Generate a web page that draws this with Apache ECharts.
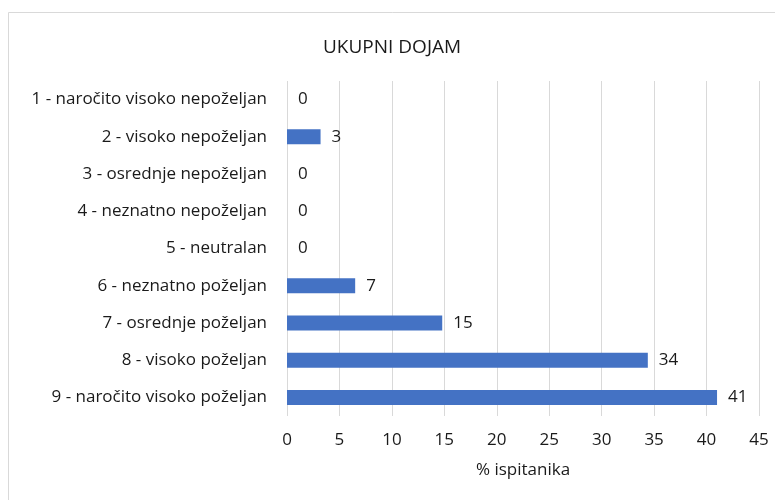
<!DOCTYPE html>
<html lang="hr">
<head>
    <meta charset="UTF-8">
    <title>Ukupni dojam</title>
    <script type="text/javascript" src="https://cdn.jsdelivr.net/npm/echarts@6/dist/echarts.min.js"></script>
    <style>
        html, body { margin: 0; padding: 0; background: #fff; }
    </style>
</head>
<body>

<div id="chart" style="width: 775px;height: 500px"></div>

<script type="text/javascript">

    // kategorije (odozgo prema dolje)
    var categories = [
        '1 - naročito visoko nepoželjan',
        '2 - visoko nepoželjan',
        '3 - osrednje nepoželjan',
        '4 - neznatno nepoželjan',
        '5 - neutralan',
        '6 - neznatno poželjan',
        '7 - osrednje poželjan',
        '8 - visoko poželjan',
        '9 - naročito visoko poželjan'
    ];
    // % ispitanika
    var values = [0, 3.2, 0, 0, 0, 6.5, 14.8, 34.4, 41.0];
    var xTicks = [0, 5, 10, 15, 20, 25, 30, 35, 40, 45];

    var font = 'Open Sans';
    var myChart = echarts.init(document.getElementById('chart'));

    var option = {
        backgroundColor: '#fff',
        animation: false,
        title: {
            text: 'UKUPNI DOJAM',
            left: 318,
            top: 33,
            textStyle: {fontFamily: font, fontSize: 19, fontWeight: 'normal', color: '#1a1a1a'}
        },
        graphic: [{
            type: 'rect',
            shape: {x: 8.5, y: 12.5, width: 800, height: 520},
            style: {fill: 'none', stroke: '#d9d9d9', lineWidth: 1}
        }],
        grid: {left: 287, right: 16, top: 81, height: 335},
        xAxis: {
            type: 'value',
            min: xTicks[0],
            max: xTicks[xTicks.length - 1],
            interval: 5,
            name: '% ispitanika',
            nameLocation: 'middle',
            nameGap: 46,
            nameTextStyle: {fontFamily: font, fontSize: 17, color: '#1a1a1a'},
            axisLine: {show: false},
            axisTick: {show: false},
            axisLabel: {fontFamily: font, fontSize: 17, color: '#1a1a1a', margin: 16},
            splitLine: {lineStyle: {color: '#d9d9d9', width: 1}}
        },
        yAxis: {
            type: 'category',
            data: categories,
            inverse: true,
            axisLine: {show: false},
            axisTick: {show: false},
            axisLabel: {fontFamily: font, fontSize: 17, color: '#1a1a1a', margin: 20}
        },
        series: [{
            type: 'bar',
            data: values,
            barWidth: 15,
            itemStyle: {color: '#4472C4'},
            label: {
                show: true,
                position: 'right',
                distance: 11,
                fontFamily: font,
                fontSize: 17,
                color: '#1a1a1a',
                formatter: function (p) { return Math.round(p.value); }
            }
        }]
    };

    myChart.setOption(option);
</script>
</body>
</html>
